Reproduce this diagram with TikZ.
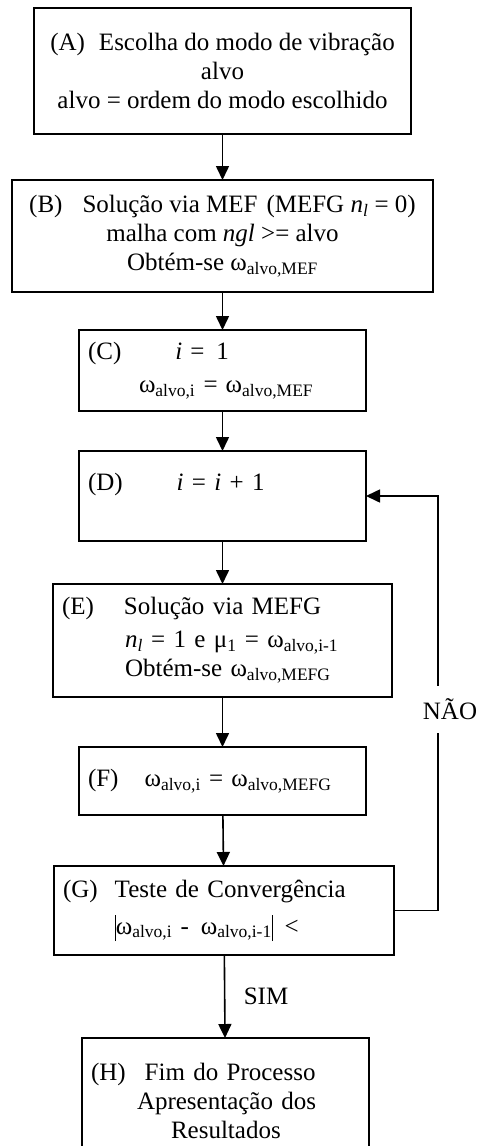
\documentclass[tikz,border=0pt]{standalone}
\usepackage{fontspec}
\setmainfont{Liberation Serif}
\usetikzlibrary{positioning,arrows.meta}
\newcommand{\om}[1]{ω\textsubscript{#1}}
\newcommand{\vbar}{\rule[-7pt]{0.9pt}{26pt}}
\tikzset{
    block/.style={draw, rectangle, line width=1.6pt, inner xsep=9pt, inner ysep=0pt, outer sep=0pt},
    arrow/.style={-{Triangle[width=13pt,length=14pt]}, line width=1.6pt}
}

\begin{document}
\begin{tikzpicture}[x=1pt, y=-1pt, font=\fontsize{25}{29}\selectfont,
    smallbox/.style={block, align=left, minimum width=287pt, text width=269pt}]
\useasboundingbox (0,0) rectangle (477,1146);

\node [block, align=center, minimum width=377pt, minimum height=126pt] (choice) at (222.5,71)
    {(A)\hspace{14pt}Escolha do modo de vibração\\ alvo\\ alvo = ordem do modo escolhido};
\node [block, align=center, minimum width=421pt, minimum height=112pt, below=46pt of choice] (mef)
    {(B)\hspace{20pt}Solução via MEF\hspace{9pt}(MEFG \textit{n}\textsubscript{\textit{l}} = 0)\\
     malha com \textit{ngl} >= alvo\\ Obtém-se \om{alvo,MEF}};
\node [smallbox, minimum height=81pt, below=38pt of mef] (init)
    {(C)\hspace{54pt}\textit{i}\hspace{8pt}=\hspace{12pt}1\\[4pt] \hspace*{51pt}\om{alvo,i} =\hspace{8pt}\om{alvo,MEF}};
\node [smallbox, minimum height=90pt, below=40pt of init] (incr)
    {(D)\hspace{54pt}\textit{i} = \textit{i} + 1\\ ~};
\node [block, align=left, minimum width=339pt, text width=321pt, minimum height=113pt, below=43pt of incr] (mefg)
    {(E)\hspace{30pt}Solução via MEFG\\[4pt]
     \hspace*{63pt}\textit{n}\textsubscript{\textit{l}} = 1 e μ\textsubscript{1} = \om{alvo,i-1}\\
     \hspace*{63pt}Obtém-se \om{alvo,MEFG}};
\node [smallbox, minimum height=68pt, below=50pt of mefg] (update)
    {(F)\hspace{26pt}\om{alvo,i} =\hspace{8pt}\om{alvo,MEFG}};
\node [block, align=left, minimum width=340pt, text width=322pt, minimum height=89pt, below=51pt of update, xshift=1.5pt] (test)
    {(G)\hspace{17pt}Teste de Convergência\\[8pt]
     \hspace*{52pt}\vbar\om{alvo,i} -\hspace{12pt}\om{alvo,i-1}\vbar\hspace{12pt}<};
\node [smallbox, minimum height=126pt, below=83pt of test, xshift=1.5pt] (finish)
    {(H)\hspace{19pt}Fim do Processo\\ \hspace*{46pt}Apresentação dos\\ \hspace*{80pt}Resultados};

\draw [arrow] (choice) -- (mef);
\draw [arrow] (mef) -- (init);
\draw [arrow] (init) -- (incr);
\draw [arrow] (incr) -- (mefg);
\draw [arrow] (mefg) -- (update);
\draw [arrow] (update) -- (test);
\draw [arrow] (test) -- node[right=15pt] (yes) {SIM} (finish);

% loop back when not converged
\draw [arrow] (test.east) -- ++(44,0) |- node[pos=0.25, fill=white, inner ysep=13pt, xshift=12pt, yshift=-6pt] (no) {NÃO} (incr.east);

\end{tikzpicture}
\end{document}
